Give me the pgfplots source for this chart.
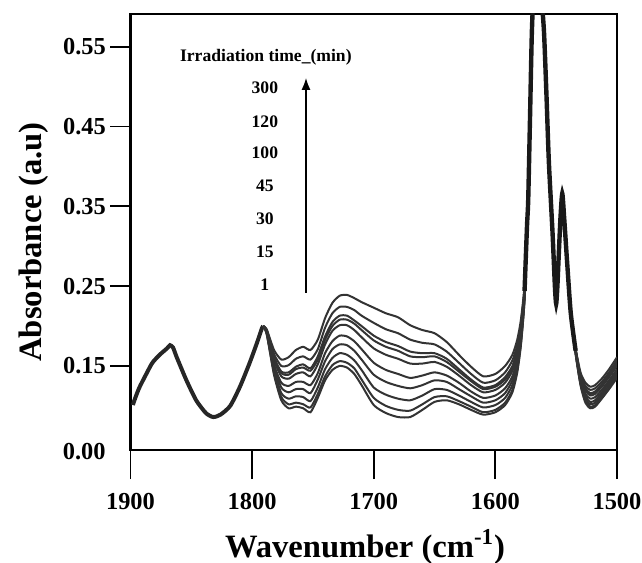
\documentclass[border=0pt]{standalone}
\usepackage{fontspec}
\setmainfont{Liberation Serif}
\usepackage{pgfplots}
\usepackage{pgfplotstable}
\pgfplotsset{compat=1.18}
\usetikzlibrary{arrows.meta}

\pgfplotstableread{
wn y
1898 0.101
1897 0.106
1893 0.122
1887 0.140
1882 0.154
1876 0.164
1870 0.172
1867.5 0.176
1865 0.173
1862 0.161
1854 0.132
1846 0.107
1838 0.091
1832 0.086
1826 0.089
1818 0.100
1810 0.124
1802 0.154
1796 0.179
1792 0.197
1791 0.200
}\common

\pgfplotstableread{
wn c1 c2 c3 c4 c5 c6 c7 c8 c9 c10
1791 0.200 0.200 0.200 0.200 0.200 0.200 0.200 0.200 0.200 0.200
1788 0.196 0.195 0.194 0.194 0.194 0.193 0.192 0.191 0.190 0.190
1782 0.170 0.165 0.161 0.160 0.157 0.152 0.149 0.145 0.141 0.139
1776 0.158 0.150 0.143 0.141 0.137 0.129 0.123 0.116 0.111 0.107
1770 0.161 0.151 0.142 0.139 0.134 0.125 0.117 0.109 0.102 0.097
1764 0.170 0.159 0.149 0.146 0.140 0.130 0.121 0.112 0.104 0.099
1758 0.174 0.162 0.152 0.148 0.142 0.130 0.121 0.111 0.102 0.097
1752 0.170 0.158 0.147 0.144 0.137 0.126 0.116 0.106 0.098 0.092
1746 0.183 0.171 0.162 0.158 0.152 0.141 0.133 0.123 0.115 0.110
1740 0.210 0.198 0.187 0.183 0.177 0.166 0.156 0.146 0.137 0.132
1734 0.229 0.216 0.205 0.200 0.194 0.181 0.171 0.160 0.151 0.145
1728 0.238 0.224 0.213 0.208 0.201 0.188 0.177 0.166 0.156 0.150
1722 0.239 0.224 0.213 0.208 0.201 0.187 0.176 0.164 0.154 0.148
1716 0.235 0.220 0.207 0.203 0.195 0.181 0.169 0.157 0.147 0.140
1710 0.230 0.213 0.200 0.195 0.186 0.171 0.158 0.145 0.133 0.126
1700 0.223 0.204 0.188 0.182 0.172 0.154 0.139 0.123 0.110 0.101
1690 0.216 0.196 0.180 0.174 0.164 0.145 0.130 0.114 0.100 0.091
1680 0.211 0.191 0.175 0.169 0.159 0.140 0.125 0.109 0.095 0.086
1670 0.201 0.183 0.168 0.162 0.153 0.135 0.122 0.107 0.094 0.086
1660 0.195 0.179 0.166 0.161 0.153 0.138 0.126 0.113 0.102 0.095
1650 0.191 0.177 0.166 0.162 0.155 0.142 0.132 0.121 0.111 0.105
1640 0.180 0.168 0.159 0.155 0.149 0.138 0.130 0.120 0.112 0.107
1630 0.164 0.154 0.146 0.143 0.138 0.129 0.121 0.113 0.106 0.102
1620 0.149 0.140 0.133 0.131 0.126 0.118 0.112 0.105 0.099 0.095
1610 0.137 0.129 0.123 0.121 0.117 0.110 0.104 0.098 0.092 0.089
1600 0.140 0.132 0.126 0.124 0.120 0.113 0.107 0.101 0.095 0.092
1592 0.150 0.142 0.136 0.133 0.129 0.122 0.116 0.110 0.104 0.101
1586 0.164 0.157 0.150 0.148 0.144 0.137 0.132 0.126 0.120 0.117
1582 0.183 0.176 0.171 0.169 0.166 0.160 0.155 0.149 0.145 0.142
1579 0.208 0.203 0.199 0.197 0.195 0.190 0.186 0.182 0.178 0.176
1576 0.252 0.249 0.247 0.246 0.244 0.241 0.239 0.236 0.234 0.233
1574 0.325 0.325 0.325 0.325 0.325 0.325 0.325 0.325 0.325 0.325
1573 0.358 0.358 0.358 0.358 0.358 0.358 0.358 0.358 0.358 0.358
1571.5 0.462 0.462 0.462 0.462 0.462 0.462 0.462 0.462 0.462 0.462
1570 0.568 0.568 0.568 0.568 0.568 0.568 0.568 0.568 0.568 0.568
1568 0.640 0.640 0.640 0.640 0.640 0.640 0.640 0.640 0.640 0.640
1566 0.670 0.670 0.670 0.670 0.670 0.670 0.670 0.670 0.670 0.670
1564 0.650 0.650 0.650 0.650 0.650 0.650 0.650 0.650 0.650 0.650
1562 0.610 0.610 0.610 0.610 0.610 0.610 0.610 0.610 0.610 0.610
1560 0.568 0.568 0.568 0.568 0.568 0.568 0.568 0.568 0.568 0.568
1558 0.490 0.490 0.490 0.490 0.490 0.490 0.490 0.490 0.490 0.490
1556 0.405 0.405 0.405 0.405 0.405 0.405 0.405 0.405 0.405 0.405
1553 0.317 0.317 0.317 0.317 0.317 0.317 0.317 0.317 0.317 0.317
1551 0.248 0.248 0.248 0.248 0.248 0.248 0.248 0.248 0.248 0.248
1550 0.228 0.228 0.228 0.228 0.228 0.228 0.228 0.228 0.228 0.228
1549 0.250 0.250 0.250 0.250 0.250 0.250 0.250 0.250 0.250 0.250
1548 0.285 0.285 0.285 0.285 0.285 0.285 0.285 0.285 0.285 0.285
1546.5 0.335 0.335 0.335 0.335 0.335 0.335 0.335 0.335 0.335 0.335
1545 0.366 0.366 0.366 0.366 0.366 0.366 0.366 0.366 0.366 0.366
1543.5 0.337 0.337 0.337 0.337 0.337 0.337 0.337 0.337 0.337 0.337
1541 0.280 0.280 0.280 0.280 0.280 0.280 0.280 0.280 0.280 0.280
1538 0.216 0.216 0.216 0.216 0.216 0.216 0.216 0.216 0.216 0.216
1534 0.172 0.171 0.170 0.170 0.169 0.168 0.167 0.166 0.165 0.165
1530 0.142 0.139 0.137 0.137 0.135 0.133 0.131 0.129 0.127 0.126
1526 0.129 0.125 0.122 0.121 0.119 0.115 0.112 0.109 0.106 0.104
1522 0.124 0.120 0.116 0.115 0.113 0.109 0.105 0.102 0.099 0.097
1518 0.126 0.122 0.118 0.117 0.115 0.111 0.107 0.104 0.101 0.099
1512 0.135 0.131 0.128 0.127 0.125 0.121 0.118 0.115 0.112 0.110
1506 0.147 0.143 0.140 0.139 0.137 0.133 0.130 0.127 0.124 0.122
1500 0.161 0.157 0.154 0.152 0.150 0.146 0.143 0.140 0.137 0.135
}\curves

\begin{document}
\begin{tikzpicture}
\begin{axis}[
  name=ax,
  at={(0,0)}, anchor=south west,
  scale only axis, width=243.25pt, height=218pt,
  x dir=reverse, xmin=1500, xmax=1900, ymin=0.0447, ymax=0.591,
  xtick={1500,1600,1700,1800,1900}, xticklabels={1500,1600,1700,1800,1900},
  ytick={0.15,0.25,0.35,0.45,0.55}, yticklabels={0.15,0.25,0.35,0.45,0.55},
  xtick pos=bottom, ytick pos=left, tick align=outside,
  major tick length=10pt,
  xtick style={/pgfplots/major tick length=14.5pt, line width=0.9pt, black},
  ytick style={line width=0.9pt, black},
  minor tick num=0,
  axis line style={line width=1.1pt, black},
  tick label style={font=\fontsize{12.2}{14}\selectfont\bfseries, black},
  xticklabel style={yshift=-8pt},
  yticklabel style={xshift=1.2pt},
  label style={font=\fontsize{16.3}{19}\selectfont\bfseries, black},
  xlabel={Wavenumber (cm\textsuperscript{-1})},
  ylabel={Absorbance (a.u)},
  xlabel style={at={(axis description cs:0.482,-0.2454)}, anchor=base},
  ylabel style={at={(axis description cs:-0.1819,0.477)}, anchor=base},
  unbounded coords=jump,
  every axis plot/.append style={no marks, smooth, tension=0.4},
]
\addplot[black!85, line width=2pt] table[x=wn,y=y]{\common};
\foreach \c in {c1,c2,c3,c4,c5,c6,c7,c8,c9,c10}{
  \addplot[black!80, line width=1pt] table[x=wn,y=\c]{\curves};
}
\addplot[black!90, line width=2.2pt, restrict x to domain=1534:1576] table[x=wn,y=c5]{\curves};

\node[font=\fontsize{8.8}{10}\selectfont\bfseries] at (axis cs:1788.7,0.537) {Irradiation time\_(min)};
\node[font=\fontsize{8.8}{10}\selectfont\bfseries] at (axis cs:1789.5,0.498) {300};
\node[font=\fontsize{8.8}{10}\selectfont\bfseries] at (axis cs:1789.5,0.456) {120};
\node[font=\fontsize{8.8}{10}\selectfont\bfseries] at (axis cs:1789.5,0.417) {100};
\node[font=\fontsize{8.8}{10}\selectfont\bfseries] at (axis cs:1789.5,0.376) {45};
\node[font=\fontsize{8.8}{10}\selectfont\bfseries] at (axis cs:1789.5,0.335) {30};
\node[font=\fontsize{8.8}{10}\selectfont\bfseries] at (axis cs:1789.5,0.293) {15};
\node[font=\fontsize{8.8}{10}\selectfont\bfseries] at (axis cs:1789.5,0.252) {1};
\draw[line width=0.8pt, -{Latex[length=6pt,width=4.5pt]}] (axis cs:1755.7,0.2415) -- (axis cs:1755.7,0.511);
\end{axis}
\node[font=\fontsize{12.2}{14}\selectfont\bfseries, anchor=east, inner sep=0pt, xshift=-12.25pt, yshift=-1pt] at (ax.south west) {0.00};
\pgfresetboundingbox
\useasboundingbox (-65.25pt,-56pt) rectangle (255.75pt,225pt);
\end{tikzpicture}
\end{document}
